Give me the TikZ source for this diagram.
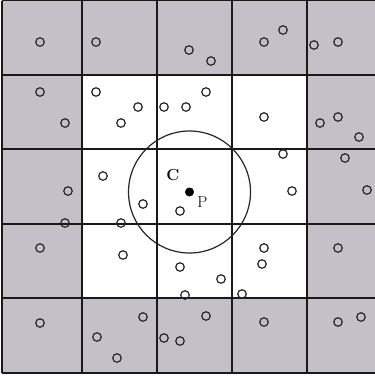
\documentclass[tikz,border=0pt]{standalone}
\definecolor{cellgray}{RGB}{195,192,199}
\definecolor{gridline}{RGB}{25,25,25}
\tikzset{
  pt/.style={circle,draw=black!85,line width=1.2pt,minimum size=8.5pt,inner sep=0pt,fill=none},
  gridln/.style={draw=gridline,line width=1.4pt},
  lbl/.style={inner sep=0pt,font=\fontsize{16}{16}\selectfont}
}
\begin{document}
\begin{tikzpicture}[x=1pt,y=-1pt]
\useasboundingbox (0,0) rectangle (375,376);
\fill[white] (0,0) rectangle (375,376);
% gray ring and white centre
\fill[cellgray] (2,0.7) rectangle (375,373);
\fill[white] (82,75) rectangle (307,298);
% grid
\foreach \x in {2,82,157,232,307}{\draw[gridln] (\x,0.7) -- (\x,373);}
\foreach \y in {0.7,75,149,224,298,373}{\draw[gridln] (2,\y) -- (375,\y);}
% big circle and point P
\node[circle,draw=black!85,line width=1.2pt,minimum size=122pt,inner sep=0pt] (range) at (189.5,192) {};
\node[circle,fill=black,minimum size=9pt,inner sep=0pt] (P) at (189.5,192) {};
\node[lbl,font=\fontsize{16}{16}\selectfont\bfseries] (Clab) at (173,175) {C};
\node[lbl] (Plab) at (202.5,202) {P};
% sample points
\foreach \px/\py [count=\i] in {
 40/42, 96/42, 189/50, 211/61, 264/42, 283/30, 314/45, 338/42,
 40/92, 65/123, 96/92, 121/123, 138/107, 164/107, 186/107, 206/92,
 264/117, 320/123, 338/117, 359/137,
 103/176, 68/191, 143/204, 180/211, 283/154, 345/158, 292/191, 367/190,
 65/223, 121/223, 40/248, 123/255, 180/267, 185/295,
 264/248, 262/264, 338/248, 221/279, 242/294,
 40/323, 143/317, 97/337, 117/358, 164/338, 180/341,
 206/316, 264/322, 338/322, 361/317}
 {\node[pt] (p\i) at (\px,\py) {};}
\end{tikzpicture}
\end{document}
